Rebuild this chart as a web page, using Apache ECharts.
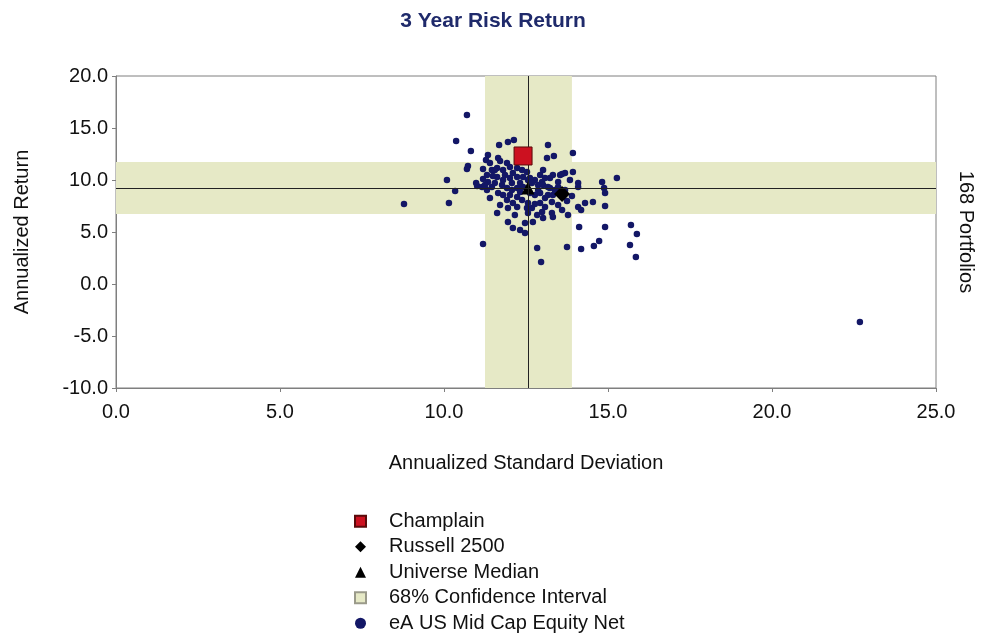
<!DOCTYPE html>
<html><head><meta charset="utf-8">
<script src="https://cdn.jsdelivr.net/npm/echarts@6/dist/echarts.min.js"></script>
<style>html,body{margin:0;padding:0;background:#fff}#c{width:986px;height:636px}</style>
</head><body><div id="c"></div>
<script>
const titleText = '3 Year Risk Return';
const xAxisName = 'Annualized Standard Deviation';
const yAxisName = 'Annualized Return';
const portfolioCount = '168 Portfolios';
const xTicks = [0, 5, 10, 15, 20, 25];
const yTicks = [-10, -5, 0, 5, 10, 15, 20];

// [std dev, return]
const champlain = [[12.41, 12.31]];
const russell2500 = [[13.60, 8.65]];
const universeMedian = [[12.56, 9.23]];
const ciStdDev = [11.25, 13.90];
const ciReturn = [6.73, 11.73];

const universe = [
  [10.70,16.25],[10.37,13.75],[10.82,12.79],[10.73,11.35],[10.70,11.06],[10.09,10.00],[10.34,8.94],[10.15,7.79],
  [8.78,7.69],[11.68,13.37],[11.95,13.65],[12.13,13.85],[11.34,12.40],[11.28,11.92],[11.40,11.63],[11.65,12.12],
  [11.71,11.83],[11.92,11.63],[11.62,11.15],[11.46,10.96],[11.19,11.06],[11.80,10.96],[12.01,11.25],[12.23,11.15],
  [12.38,10.96],[12.53,10.77],[10.98,9.71],[11.19,10.10],[11.34,9.81],[11.62,10.29],[11.80,10.00],[12.01,10.19],
  [12.23,10.29],[12.41,10.29],[12.56,10.00],[11.31,10.48],[13.17,13.37],[13.14,12.12],[13.35,12.31],[13.93,12.60],
  [13.93,10.77],[13.69,10.67],[13.54,10.48],[13.32,10.48],[13.02,10.96],[12.93,10.48],[12.77,10.00],[12.62,10.19],
  [12.99,9.81],[13.23,10.19],[13.48,9.81],[14.09,9.71],[11.01,9.42],[11.16,9.33],[11.31,9.04],[11.46,9.33],
  [11.55,9.71],[11.77,9.52],[11.92,9.23],[12.07,9.71],[12.23,9.23],[12.32,8.85],[12.41,9.33],[11.65,8.75],
  [11.80,8.56],[12.01,8.56],[12.23,8.37],[11.92,8.08],[12.10,7.79],[12.23,7.40],[11.95,7.31],[11.62,6.83],
  [12.16,6.63],[12.53,7.31],[12.56,6.83],[11.95,5.96],[12.10,5.38],[12.32,5.19],[12.47,4.90],[11.19,3.85],
  [12.84,3.46],[12.96,2.12],[12.68,9.71],[12.87,9.52],[13.02,9.52],[13.23,9.23],[13.48,9.33],[14.09,9.33],
  [13.90,8.46],[13.75,7.98],[14.09,7.40],[14.30,7.79],[14.54,7.88],[13.78,6.63],[14.12,5.48],[12.56,7.79],
  [12.68,7.31],[12.77,7.69],[12.93,7.79],[13.08,8.27],[13.17,8.56],[13.32,8.56],[13.29,7.88],[12.99,6.92],
  [13.29,6.83],[13.32,6.44],[12.84,6.63],[12.62,8.75],[12.77,8.56],[12.93,8.75],[13.38,9.04],[13.60,10.58],
  [14.82,9.81],[14.88,9.23],[14.91,8.75],[15.27,10.19],[14.91,7.50],[14.18,7.12],[13.02,6.35],[14.91,5.48],
  [15.70,5.67],[15.88,4.81],[13.75,3.56],[14.18,3.37],[14.57,3.65],[14.73,4.13],[15.67,3.75],[15.85,2.60],
  [22.68,-3.65],[11.49,10.38],[11.86,10.48],[12.10,10.67],[12.32,9.71],[11.40,8.27],[11.71,7.60],[12.38,8.08],
  [12.47,5.87],[12.71,5.96],[13.08,7.40],[13.48,7.60],[13.60,7.12],[13.17,9.33],[12.87,9.04],[11.55,10.96],
  [12.07,9.04],[11.25,9.52],[13.69,9.04],[13.84,10.00],[13.08,10.19]
];

const chart = echarts.init(document.getElementById('c'));
const FONT = 'Liberation Sans, Arial, sans-serif';
chart.setOption({
  animation: false,
  textStyle: { fontFamily: FONT },
  title: {
    text: titleText, left: 'center', top: 6,
    textStyle: { fontFamily: FONT, fontSize: 21, fontWeight: 'bold', color: '#1f2a6b' }
  },
  grid: { left: 116, right: 50, top: 76, bottom: 248, show: true, borderColor: '#7f7f7f', borderWidth: 1, backgroundColor: 'transparent' },
  xAxis: {
    type: 'value', min: xTicks[0], max: xTicks[xTicks.length - 1], interval: 5,
    name: xAxisName, nameLocation: 'middle', nameGap: 65,
    nameTextStyle: { fontSize: 20, color: '#111', fontFamily: FONT },
    axisLine: { onZero: false, lineStyle: { color: '#7f7f7f' } },
    axisTick: { show: true, length: 4, lineStyle: { color: '#7f7f7f' } },
    axisLabel: { fontSize: 20, color: '#111', margin: 14, formatter: v => v.toFixed(1) },
    splitLine: { show: false }
  },
  yAxis: {
    type: 'value', min: yTicks[0], max: yTicks[yTicks.length - 1], interval: 5,
    name: yAxisName, nameLocation: 'middle', nameGap: 84, nameRotate: 90,
    nameTextStyle: { fontSize: 20, color: '#111', fontFamily: FONT },
    axisLine: { show: true, onZero: false, lineStyle: { color: '#7f7f7f' } },
    axisTick: { show: true, length: 4, lineStyle: { color: '#7f7f7f' } },
    axisLabel: { fontSize: 20, color: '#111', margin: 8, formatter: v => v.toFixed(1) },
    splitLine: { show: false }
  },
  legend: {
    orient: 'vertical', left: 354, top: 511, height: 125, padding: 0,
    itemWidth: 11, itemHeight: 11, itemGap: 5,
    textStyle: { fontSize: 20, color: '#111', fontFamily: FONT, padding: [0, 0, 0, 18], lineHeight: 20.5 },
    data: [
      { name: 'Champlain', icon: 'rect' },
      { name: 'Russell 2500', icon: 'diamond' },
      { name: 'Universe Median', icon: 'triangle' },
      { name: '68% Confidence Interval', icon: 'rect' },
      { name: 'eA US Mid Cap Equity Net', icon: 'circle' }
    ]
  },
  graphic: [{
    type: 'text', x: 966, y: 232, rotation: -Math.PI / 2,
    style: { text: portfolioCount, font: '20px ' + FONT, fill: '#111', textAlign: 'center', textVerticalAlign: 'middle' }
  }],
  series: [
    {
      name: '68% Confidence Interval', type: 'scatter', data: [], z: 1,
      itemStyle: { color: '#e6e9c6', borderColor: '#9a9a8a', borderWidth: 1, opacity: 1 },
      markArea: {
        silent: true,
        itemStyle: { color: '#e6e9c6', opacity: 1 },
        data: [
          [{ xAxis: ciStdDev[0] }, { xAxis: ciStdDev[1] }],
          [{ yAxis: ciReturn[0] }, { yAxis: ciReturn[1] }]
        ]
      },
      markLine: {
        silent: true, symbol: 'none', label: { show: false },
        lineStyle: { color: '#222', width: 1, type: 'solid' },
        data: [{ xAxis: universeMedian[0][0] }, { yAxis: universeMedian[0][1] }]
      }
    },
    {
      name: 'eA US Mid Cap Equity Net', type: 'scatter', data: universe, z: 3,
      symbol: 'circle', symbolSize: 6.5, itemStyle: { color: '#131766', opacity: 1 }
    },
    {
      name: 'Universe Median', type: 'scatter', data: universeMedian, z: 4,
      symbol: 'triangle', symbolSize: 13, itemStyle: { color: '#000', opacity: 1 }
    },
    {
      name: 'Russell 2500', type: 'scatter', data: russell2500, z: 4,
      symbol: 'diamond', symbolSize: 16, itemStyle: { color: '#000', opacity: 1 }
    },
    {
      name: 'Champlain', type: 'scatter', data: champlain, z: 5,
      symbol: 'rect', symbolSize: 18, itemStyle: { color: '#cc1120', borderColor: '#5a0a0a', borderWidth: 1, opacity: 1 }
    }
  ]
});
</script>
</body></html>
